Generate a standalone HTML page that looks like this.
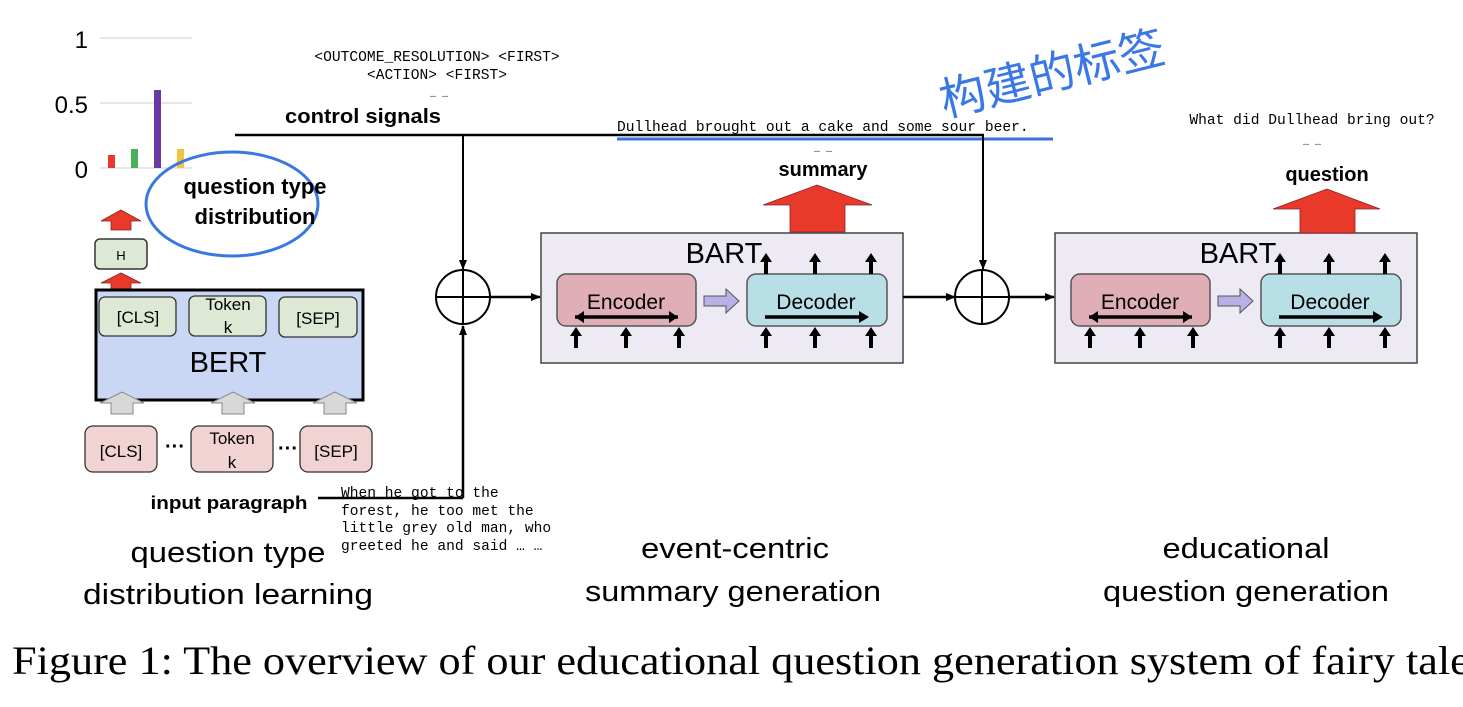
<!DOCTYPE html>
<html><head><meta charset="utf-8"><style>
html,body{margin:0;padding:0;background:#fff;width:1463px;height:707px;overflow:hidden}
svg{display:block}
.sans{font-family:"Liberation Sans","DejaVu Sans",sans-serif}
.mono{font-family:"Liberation Mono","DejaVu Sans Mono",monospace}
</style></head><body>
<svg width="1463" height="707" viewBox="0 0 1463 707" xmlns="http://www.w3.org/2000/svg">
<defs>
<marker id="ah" markerWidth="10" markerHeight="10" refX="9" refY="5" orient="auto" markerUnits="userSpaceOnUse"><path d="M0,1 L10,5 L0,9 z" fill="#000"/></marker>
<g id="upb"><path d="M-2,0 L-2,-12 L-6,-12 L0,-21 L6,-12 L2,-12 L2,0 z" fill="#000"/></g>
<g id="bart">
<rect x="541" y="233" width="362" height="130" fill="#eeeaf4" stroke="#444" stroke-width="1.5"/>
<text x="724" y="263" class="sans" font-size="29" text-anchor="middle">BART</text>
<rect x="557" y="274" width="139" height="52" rx="9" fill="#dfaeb6" stroke="#555" stroke-width="1.5"/>
<rect x="747" y="274" width="140" height="52" rx="9" fill="#b9dfe6" stroke="#555" stroke-width="1.5"/>
<text x="626" y="309" class="sans" font-size="21" text-anchor="middle">Encoder</text>
<text x="816" y="309" class="sans" font-size="21" text-anchor="middle">Decoder</text>
<path d="M575,317 L678,317" stroke="#000" stroke-width="3.5"/>
<path d="M575,317 l9,-6 v12 z M678,317 l-9,-6 v12 z" fill="#000"/>
<path d="M765,317 L860,317" stroke="#000" stroke-width="3.5"/>
<path d="M869,317 l-10,-6 v12 z" fill="#000"/>
<path d="M704,296 h22 v-7 l13,12 l-13,12 v-7 h-22 z" fill="#b8b0e6" stroke="#555" stroke-width="1"/>
<use href="#upb" x="576" y="348"/><use href="#upb" x="626" y="348"/><use href="#upb" x="679" y="348"/>
<use href="#upb" x="766" y="348"/><use href="#upb" x="815" y="348"/><use href="#upb" x="871" y="348"/>
<use href="#upb" x="766" y="274"/><use href="#upb" x="815" y="274"/><use href="#upb" x="871" y="274"/>
</g>
</defs>

<!-- chart -->
<g class="sans" font-size="24" text-anchor="end">
<text x="88" y="48">1</text><text x="88" y="113">0.5</text><text x="88" y="178">0</text>
</g>
<g stroke="#ddd" stroke-width="1.5"><path d="M100,38 H192 M100,103 H192 M100,168 H192"/></g>
<rect x="108" y="155" width="7" height="13" fill="#e8392a"/>
<rect x="131" y="149" width="7" height="19" fill="#4caf5a"/>
<rect x="154" y="90" width="7" height="78" fill="#6a3aa0"/>
<rect x="177" y="149" width="7" height="19" fill="#f4c33e"/>
<ellipse cx="232" cy="204" rx="86" ry="52" fill="none" stroke="#3a78e0" stroke-width="3"/>
<text x="255" y="194" class="sans" font-size="22" font-weight="bold" text-anchor="middle">question type</text>
<text x="255" y="224" class="sans" font-size="22" font-weight="bold" text-anchor="middle">distribution</text>

<!-- red arrows + H -->
<path d="M111,230 V221 H101 L121,210 L141,221 H131 V230 z" fill="#e8392a" stroke="#822" stroke-width="0.8"/>
<rect x="95" y="239" width="52" height="30" rx="5" fill="#dde9d5" stroke="#333" stroke-width="1.5"/>
<text x="121" y="260" class="sans" font-size="13" text-anchor="middle">H</text>
<path d="M111,292 V283 H101 L121,273 L141,283 H131 V292 z" fill="#e8392a" stroke="#822" stroke-width="0.8"/>

<!-- BERT -->
<rect x="96" y="290" width="267" height="110" fill="#c9d7f5" stroke="#000" stroke-width="3"/>
<rect x="99" y="297" width="77" height="39" rx="6" fill="#dde9d5" stroke="#333" stroke-width="1.3"/>
<rect x="189" y="296" width="77" height="40" rx="6" fill="#dde9d5" stroke="#333" stroke-width="1.3"/>
<rect x="279" y="297" width="78" height="40" rx="6" fill="#dde9d5" stroke="#333" stroke-width="1.3"/>
<g class="sans" font-size="17" text-anchor="middle">
<text x="138" y="323">[CLS]</text><text x="228" y="310">Token</text><text x="228" y="333">k</text><text x="318" y="324">[SEP]</text>
</g>
<text x="228" y="372" class="sans" font-size="29" text-anchor="middle">BERT</text>
<g fill="#d8d8d8" stroke="#888" stroke-width="1">
<path d="M111,414 V403 H100 L122,392 L144,403 H133 V414 z"/>
<path d="M222,414 V403 H211 L233,392 L255,403 H244 V414 z"/>
<path d="M324,414 V403 H313 L335,392 L357,403 H346 V414 z"/>
</g>
<rect x="85" y="426" width="72" height="46" rx="8" fill="#f1d3d3" stroke="#333" stroke-width="1.3"/>
<rect x="191" y="426" width="82" height="46" rx="8" fill="#f1d3d3" stroke="#333" stroke-width="1.3"/>
<rect x="300" y="426" width="72" height="46" rx="8" fill="#f1d3d3" stroke="#333" stroke-width="1.3"/>
<g class="sans" font-size="17" text-anchor="middle">
<text x="121" y="457">[CLS]</text><text x="232" y="444">Token</text><text x="232" y="468">k</text><text x="336" y="457">[SEP]</text>
<text x="175" y="453" font-size="20" font-weight="bold">···</text><text x="288" y="455" font-size="20" font-weight="bold">···</text>
</g>
<text x="229" y="509" class="sans" font-size="18" font-weight="bold" text-anchor="middle" textLength="157" lengthAdjust="spacingAndGlyphs">input paragraph</text>
<path d="M318,498 H463" stroke="#000" stroke-width="2.5"/>
<g class="mono" font-size="14.6">
<text x="341" y="497">When he got to the</text>
<text x="341" y="515">forest, he too met the</text>
<text x="341" y="532">little grey old man, who</text>
<text x="341" y="550">greeted he and said … …</text>
</g>
<path d="M463,498 V326" stroke="#000" stroke-width="2.5" marker-end="url(#ah)"/>

<!-- control signals -->
<g class="mono" font-size="14.6" text-anchor="middle">
<text x="437" y="61">&lt;OUTCOME_RESOLUTION&gt; &lt;FIRST&gt;</text>
<text x="437" y="79">&lt;ACTION&gt; &lt;FIRST&gt;</text>
<text x="439" y="97" font-size="10">… …</text>
</g>
<text x="363" y="123" class="sans" font-size="20" font-weight="bold" text-anchor="middle" textLength="156" lengthAdjust="spacingAndGlyphs">control signals</text>
<path d="M235,135 H984" stroke="#000" stroke-width="2.5"/>
<path d="M463,135 V269" stroke="#000" stroke-width="2" marker-end="url(#ah)"/>
<circle cx="463" cy="297" r="27" fill="#fff" stroke="#000" stroke-width="2"/>
<path d="M436,297 H490 M463,270 V324" stroke="#000" stroke-width="2"/>
<path d="M490,297 H540" stroke="#000" stroke-width="2.5" marker-end="url(#ah)"/>

<text x="617" y="131" class="mono" font-size="14.6">Dullhead brought out a cake and some sour beer.</text>
<path d="M617,139 H1053" stroke="#3a70d8" stroke-width="3"/>
<text x="823" y="152" class="mono" font-size="10" text-anchor="middle">… …</text>
<text x="823" y="176" class="sans" font-size="20" font-weight="bold" text-anchor="middle">summary</text>
<path d="M790,232 V205 H763 L817,185 L872,205 H845 V232 z" fill="#e8392a" stroke="#822" stroke-width="0.8"/>

<use href="#bart"/>
<use href="#bart" x="514"/>

<path d="M983,135 V269" stroke="#000" stroke-width="2" marker-end="url(#ah)"/>
<circle cx="982" cy="297" r="27" fill="#fff" stroke="#000" stroke-width="2"/>
<path d="M955,297 H1009 M982,270 V324" stroke="#000" stroke-width="2"/>
<path d="M903,297 H955" stroke="#000" stroke-width="2.5" marker-end="url(#ah)"/>
<path d="M1009,297 H1054" stroke="#000" stroke-width="2.5" marker-end="url(#ah)"/>

<text x="1312" y="124" class="mono" font-size="14.6" text-anchor="middle">What did Dullhead bring out?</text>
<text x="1312" y="145" class="mono" font-size="10" text-anchor="middle">… …</text>
<text x="1327" y="181" class="sans" font-size="20" font-weight="bold" text-anchor="middle">question</text>
<path d="M1300,233 V209 H1273 L1327,189 L1380,209 H1355 V233 z" fill="#e8392a" stroke="#822" stroke-width="0.8"/>

<text x="1050" y="90" font-family="'Liberation Sans','Noto Sans CJK SC',sans-serif" font-size="46" fill="#3a78e8" text-anchor="middle" transform="rotate(-14 1050 65)">构建的标签</text>

<!-- captions -->
<g class="sans" font-size="29" text-anchor="middle" lengthAdjust="spacingAndGlyphs">
<text x="228" y="562" textLength="195" lengthAdjust="spacingAndGlyphs">question type</text>
<text x="228" y="604" textLength="290" lengthAdjust="spacingAndGlyphs">distribution learning</text>
<text x="735" y="558" textLength="188" lengthAdjust="spacingAndGlyphs">event-centric</text>
<text x="733" y="601" textLength="296" lengthAdjust="spacingAndGlyphs">summary generation</text>
<text x="1246" y="558" textLength="167" lengthAdjust="spacingAndGlyphs">educational</text>
<text x="1246" y="601" textLength="286" lengthAdjust="spacingAndGlyphs">question generation</text>
</g>
<text x="12" y="674" font-family="'Liberation Serif',serif" font-size="40" textLength="1475" lengthAdjust="spacingAndGlyphs">Figure 1: The overview of our educational question generation system of fairy tales</text>
</svg>
</body></html>
